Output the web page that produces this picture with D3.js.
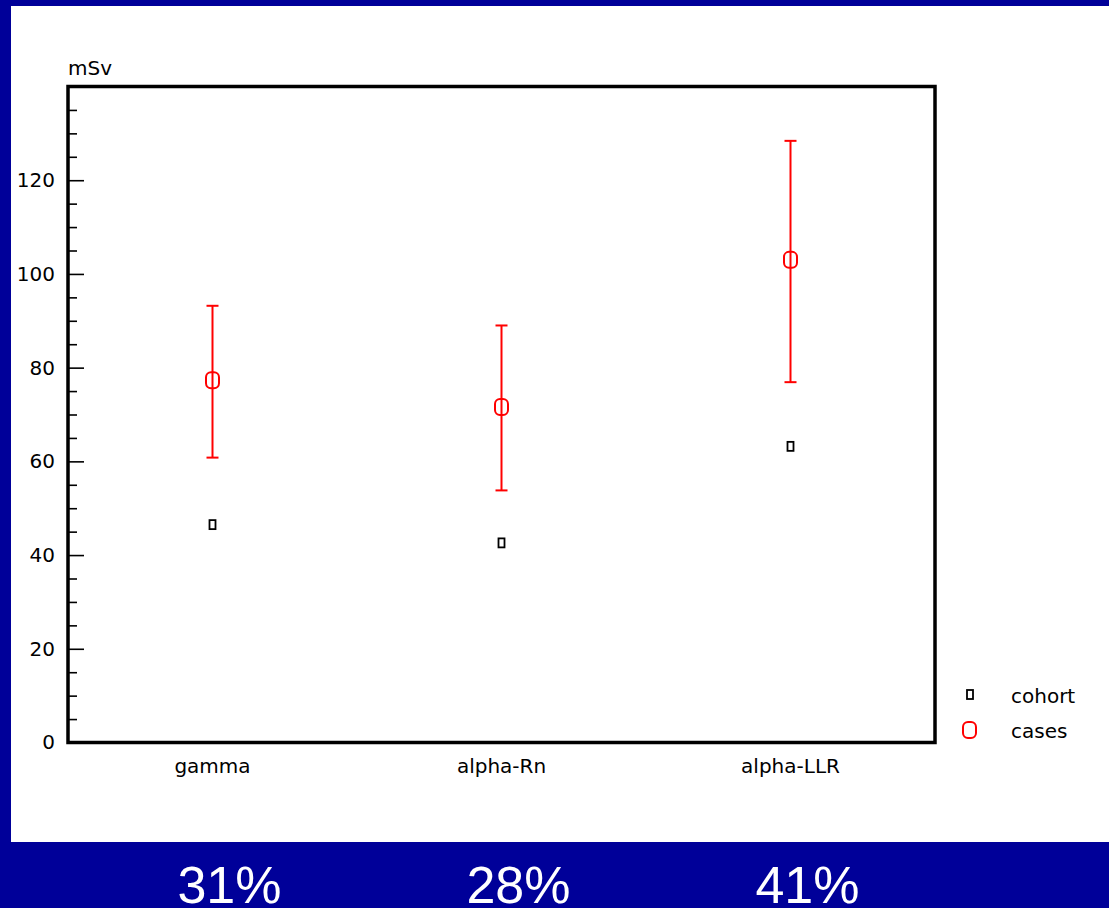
<!DOCTYPE html>
<html>
<head>
<meta charset="utf-8">
<script src="https://cdn.jsdelivr.net/npm/d3@7"></script>
<style>
  html, body { margin: 0; padding: 0; background: #000099; }
  svg { display: block; font-family: "DejaVu Sans", sans-serif; }
</style>
</head>
<body>
<div id="chart"></div>
<script>
// values (mSv)
const categories = ['gamma', 'alpha-Rn', 'alpha-LLR'];
const cohort = [46.5, 42.6, 63.2];
const cases = [77.3, 71.6, 103.0];
const casesLow = [60.8, 53.8, 76.9];
const casesHigh = [93.2, 89.0, 128.4];
const shares = ['31%', '28%', '41%'];
const majorTicks = [0, 20, 40, 60, 80, 100, 120];
const legendItems = ['cohort', 'cases'];

const width = 1109, height = 908;
let frame = { left: 68, right: 935, top: 86.5, bottom: 742.5 };

let svg = d3.select('#chart').append('svg')
    .attr('width', width)
    .attr('height', height);

// blue slide background + white panel
svg.append('rect').attr('width', width).attr('height', height).attr('fill', '#000099');
svg.append('rect').attr('x', 11).attr('y', 6).attr('width', width - 11).attr('height', 836).attr('fill', '#fff');

let x = d3.scalePoint().domain(categories).range([frame.left, frame.right]).padding(0.5);
let y = d3.scaleLinear().domain([0, 140]).range([frame.bottom, frame.top]);

// minor ticks every 5
let minor = d3.range(5, 140, 5).filter(v => v % 20 !== 0);
svg.append('g')
    .attr('transform', `translate(${frame.left},0)`)
    .call(d3.axisLeft(y).tickValues(minor).tickSize(-9).tickFormat(''))
    .call(g => g.select('.domain').remove())
    .call(g => g.selectAll('line').attr('stroke', '#000').attr('stroke-width', 1.6));

// major ticks with labels
svg.append('g')
    .attr('transform', `translate(${frame.left},0)`)
    .call(d3.axisLeft(y).tickValues(majorTicks).tickSize(-16).tickPadding(13))
    .call(g => g.select('.domain').remove())
    .call(g => g.selectAll('line').attr('stroke', '#000').attr('stroke-width', 1.6))
    .call(g => g.selectAll('text')
        .attr('font-family', '"DejaVu Sans", sans-serif')
        .attr('font-size', 20)
        .attr('fill', '#000'));

// frame
svg.append('rect')
    .attr('x', frame.left).attr('y', frame.top)
    .attr('width', frame.right - frame.left)
    .attr('height', frame.bottom - frame.top)
    .attr('fill', 'none')
    .attr('stroke', '#000')
    .attr('stroke-width', 3.5);

// unit label
svg.append('text')
    .attr('x', 68).attr('y', 75)
    .attr('font-size', 20)
    .text('mSv');

// category labels
svg.selectAll('text.cat')
    .data(categories)
    .join('text')
    .attr('class', 'cat')
    .attr('x', d => x(d))
    .attr('y', 773)
    .attr('text-anchor', 'middle')
    .attr('font-size', 20)
    .text(d => d);

// error bars for cases
let bars = svg.append('g').attr('stroke', '#ff0000').attr('stroke-width', 2).attr('fill', 'none');
categories.forEach((c, i) => {
    let cx = x(c);
    bars.append('line').attr('x1', cx).attr('x2', cx).attr('y1', y(casesLow[i])).attr('y2', y(casesHigh[i]));
    bars.append('line').attr('x1', cx - 6).attr('x2', cx + 6).attr('y1', y(casesLow[i])).attr('y2', y(casesLow[i]));
    bars.append('line').attr('x1', cx - 6).attr('x2', cx + 6).attr('y1', y(casesHigh[i])).attr('y2', y(casesHigh[i]));
});

// cases markers (rounded "O")
function caseMarker(g, cx, cy) {
    g.append('rect')
        .attr('x', cx - 6.5).attr('y', cy - 8)
        .attr('width', 13).attr('height', 16)
        .attr('rx', 5).attr('ry', 5)
        .attr('fill', 'none')
        .attr('stroke', '#ff0000')
        .attr('stroke-width', 2);
}
// cohort markers (small square)
function cohortMarker(g, cx, cy) {
    g.append('rect')
        .attr('x', cx - 3).attr('y', cy - 4.5)
        .attr('width', 6).attr('height', 9)
        .attr('fill', 'none')
        .attr('stroke', '#000')
        .attr('stroke-width', 1.8);
}

let marks = svg.append('g');
categories.forEach((c, i) => {
    caseMarker(marks, x(c), y(cases[i]));
    cohortMarker(marks, x(c), y(cohort[i]));
});

// legend
let legend = svg.append('g');
cohortMarker(legend, 970, 694.5);
caseMarker(legend, 969.5, 730);
legend.selectAll('text')
    .data(legendItems)
    .join('text')
    .attr('x', 1011)
    .attr('y', (d, i) => 703 + i * 35)
    .attr('font-size', 20)
    .text(d => d);

// percentages on the blue strip
svg.selectAll('text.share')
    .data(shares)
    .join('text')
    .attr('class', 'share')
    .attr('x', (d, i) => x(categories[i]) + 17)
    .attr('y', 903)
    .attr('text-anchor', 'middle')
    .attr('fill', '#fff')
    .style('font-family', '"Liberation Sans", Arial, sans-serif')
    .attr('font-size', 52)
    .text(d => d);
</script>
</body>
</html>
